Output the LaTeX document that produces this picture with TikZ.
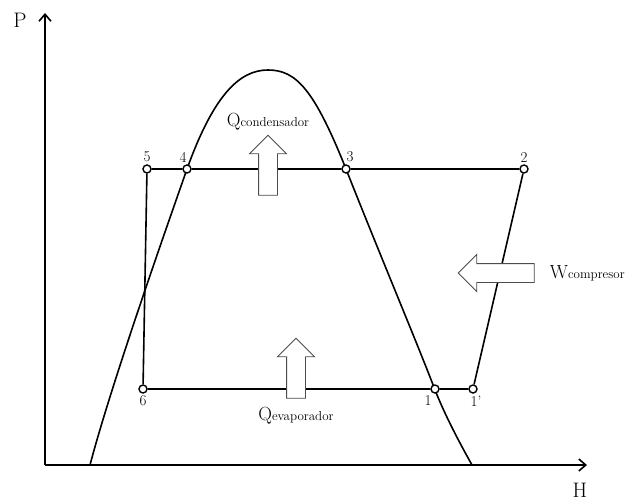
\documentclass[tikz,border=0pt]{standalone}
\usepackage{tikz}
\usetikzlibrary{positioning, shapes.arrows, arrows.meta}
\newcommand{\indice}[1]{{\fontsize{13}{13}\selectfont #1}}

\begin{document}
\begin{tikzpicture}[x=1pt, y=-1pt,
                punto/.style={draw=black, line width=1.4pt, circle, fill=white, inner sep=0pt, minimum size=8pt},
                numlabel/.style={font=\fontsize{15}{15}\selectfont, inner sep=2pt},
                linea/.style={line width=1.6pt},
                eje/.style={line width=1.6pt, -{Straight Barb[length=7pt, width=12pt, line width=1.6pt]}},
                flecha/.style={single arrow, draw=black!70, fill=white, line width=0.9pt, inner sep=9pt, single arrow head extend=9pt, minimum height=60pt},
                texto/.style={font=\fontsize{19}{19}\selectfont, inner sep=1pt},
                ejelabel/.style={font=\fontsize{21}{21}\selectfont}
            ]
            \useasboundingbox (0,0) rectangle (642,501);

            % Ejes
            \coordinate (O) at (45,465);
            \coordinate (Pmax) at (45,13);
            \coordinate (Hmax) at (587,465);
            \draw[eje] (O) -- (Pmax);
            \draw[eje] (O) -- (Hmax);
            \node[ejelabel] (P) at (20,20) {P};
            \node[ejelabel] (H) at (580,490) {H};

            % Campana de saturacion
            \draw[linea] (90,465) .. controls (111,385) and (166,229) .. (187,169)
                .. controls (214,94) and (240,70) .. (268,70)
                .. controls (296,70) and (314,89) .. (346,169)
                .. controls (380,255) and (420,350) .. (435,390)
                .. controls (445,415) and (458,440) .. (472,465);

            % Puntos del ciclo
            \node[punto, label={[numlabel]above:5}] (p5) at (147,169) {};
            \node[punto, label={[numlabel, xshift=-4pt]above:4}] (p4) at (187,169) {};
            \node[punto, label={[numlabel, xshift=4pt]above:3}] (p3) at (346,169) {};
            \node[punto, label={[numlabel]above:2}] (p2) at (524,169) {};
            \node[punto, label={[numlabel]below:6}] (p6) at (143,389) {};
            \node[punto, label={[numlabel, xshift=-7pt]below:1}] (p1) at (435,389) {};
            \node[punto, label={[numlabel, xshift=3pt]below:1'}] (p1b) at (473,389) {};

            % Ciclo
            \draw[linea] (p5) -- (p4) -- (p3) -- (p2) -- (p1b) -- (p1) -- (p6) -- (p5);

            % Flechas
            \node[flecha, shape border rotate=90] (qcond) at (268,170) {};
            \node[flecha, shape border rotate=90] (qevap) at (296,373) {};
            \node[flecha, shape border rotate=180, minimum height=76pt] (wcomp) at (501,273) {};

            % Textos
            \node[texto, above=3pt of qcond.tip] (tcond) {Q\indice{condensador}};
            \node[texto, below=7pt of qevap.tail] (tevap) {Q\indice{evaporador}};
            \node[texto, right=14pt of wcomp.tail] (tcomp) {W\indice{compresor}};

        \end{tikzpicture}
\end{document}
